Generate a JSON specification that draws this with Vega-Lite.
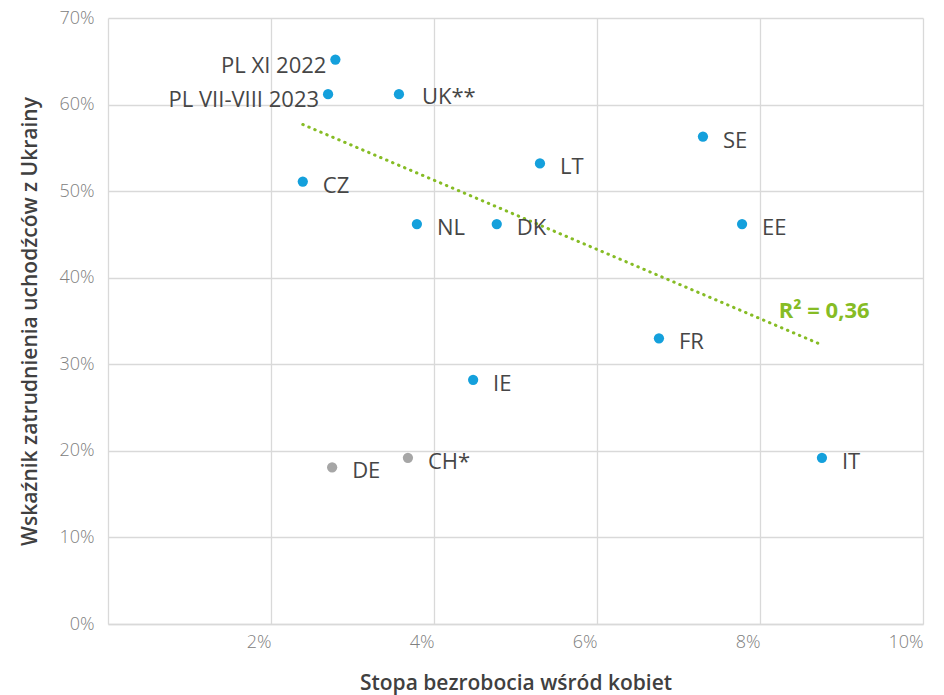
{
  "$schema": "https://vega.github.io/schema/vega-lite/v6.json",
  "autosize": "none",
  "width": 815,
  "height": 606,
  "padding": {"left": 108, "top": 18, "right": 21, "bottom": 71},
  "background": "white",
  "config": {
    "view": {"stroke": null},
    "font": "Open Sans",
    "axis": {
      "labelFont": "Open Sans",
      "labelFontWeight": 300,
      "labelFontSize": 18,
      "labelColor": "#808080",
      "titleFont": "Open Sans",
      "titleFontSize": 21,
      "titleFontWeight": 600,
      "titleColor": "#404040",
      "gridColor": "#d9d9d9",
      "gridWidth": 1.3,
      "domainColor": "#d9d9d9",
      "domainWidth": 1.3,
      "ticks": false
    }
  },
  "datasets": {
    "kraje": [
      {"kraj": "PL XI 2022", "bezrobocie": 0.0279, "zatrudnienie": 0.652, "grupa": "A"},
      {"kraj": "PL VII-VIII 2023", "bezrobocie": 0.0270, "zatrudnienie": 0.612, "grupa": "A"},
      {"kraj": "UK**", "bezrobocie": 0.0357, "zatrudnienie": 0.612, "grupa": "A"},
      {"kraj": "CZ", "bezrobocie": 0.0239, "zatrudnienie": 0.511, "grupa": "A"},
      {"kraj": "LT", "bezrobocie": 0.0530, "zatrudnienie": 0.532, "grupa": "A"},
      {"kraj": "SE", "bezrobocie": 0.0730, "zatrudnienie": 0.563, "grupa": "A"},
      {"kraj": "NL", "bezrobocie": 0.0379, "zatrudnienie": 0.462, "grupa": "A"},
      {"kraj": "DK", "bezrobocie": 0.0477, "zatrudnienie": 0.462, "grupa": "A"},
      {"kraj": "EE", "bezrobocie": 0.0778, "zatrudnienie": 0.462, "grupa": "A"},
      {"kraj": "FR", "bezrobocie": 0.0676, "zatrudnienie": 0.330, "grupa": "A"},
      {"kraj": "IE", "bezrobocie": 0.0448, "zatrudnienie": 0.282, "grupa": "A"},
      {"kraj": "DE", "bezrobocie": 0.0275, "zatrudnienie": 0.181, "grupa": "B"},
      {"kraj": "CH*", "bezrobocie": 0.0368, "zatrudnienie": 0.192, "grupa": "B"},
      {"kraj": "IT", "bezrobocie": 0.0876, "zatrudnienie": 0.192, "grupa": "A"}
    ],
    "trend": [
      {"bezrobocie": 0.0239, "zatrudnienie": 0.577},
      {"bezrobocie": 0.0877, "zatrudnienie": 0.322}
    ],
    "r2": [
      {"bezrobocie": 0.0823, "zatrudnienie": 0.361, "tekst": "R² = 0,36"}
    ]
  },
  "layer": [
    {
      "data": {"name": "trend"},
      "mark": {"type": "line", "color": "#86bc25", "strokeWidth": 3, "strokeDash": [0.5, 6], "strokeCap": "round"},
      "encoding": {
        "x": {"field": "bezrobocie", "type": "quantitative", "scale": {"domain": [0, 0.1]},
          "axis": {"values": [0.02, 0.04, 0.06, 0.08, 0.1], "format": ".0%", "labelAlign": "right", "labelPadding": 9, "title": "Stopa bezrobocia wśród kobiet", "titlePadding": 21, "grid": true}},
        "y": {"field": "zatrudnienie", "type": "quantitative", "scale": {"domain": [0, 0.7]},
          "axis": {"values": [0, 0.1, 0.2, 0.3, 0.4, 0.5, 0.6, 0.7], "format": ".0%", "labelPadding": 14, "title": "Wskaźnik zatrudnienia uchodźców z Ukrainy", "titlePadding": 18, "grid": true}}
      }
    },
    {
      "data": {"name": "kraje"},
      "mark": {"type": "circle", "size": 105, "opacity": 1},
      "encoding": {
        "x": {"field": "bezrobocie", "type": "quantitative"},
        "y": {"field": "zatrudnienie", "type": "quantitative"},
        "color": {"field": "grupa", "type": "nominal", "scale": {"domain": ["A", "B"], "range": ["#14a0dc", "#a6a6a6"]}, "legend": null}
      }
    },
    {
      "data": {"name": "kraje"},
      "transform": [{"filter": {"not": {"field": "kraj", "oneOf": ["PL XI 2022", "PL VII-VIII 2023", "UK**"]}}}],
      "mark": {"type": "text", "align": "left", "baseline": "middle", "dx": 20, "dy": 4, "fontSize": 22, "color": "#464646", "font": "Open Sans"},
      "encoding": {
        "x": {"field": "bezrobocie", "type": "quantitative"},
        "y": {"field": "zatrudnienie", "type": "quantitative"},
        "text": {"field": "kraj"}
      }
    },
    {
      "data": {"name": "kraje"},
      "transform": [{"filter": {"field": "kraj", "oneOf": ["UK**"]}}],
      "mark": {"type": "text", "align": "left", "baseline": "middle", "dx": 23, "dy": 3, "fontSize": 22, "color": "#464646", "font": "Open Sans"},
      "encoding": {
        "x": {"field": "bezrobocie", "type": "quantitative"},
        "y": {"field": "zatrudnienie", "type": "quantitative"},
        "text": {"field": "kraj"}
      }
    },
    {
      "data": {"name": "kraje"},
      "transform": [{"filter": {"field": "kraj", "oneOf": ["PL XI 2022", "PL VII-VIII 2023"]}}],
      "mark": {"type": "text", "align": "right", "baseline": "middle", "dx": -9, "dy": 6, "fontSize": 22, "color": "#464646", "font": "Open Sans"},
      "encoding": {
        "x": {"field": "bezrobocie", "type": "quantitative"},
        "y": {"field": "zatrudnienie", "type": "quantitative"},
        "text": {"field": "kraj"}
      }
    },
    {
      "data": {"name": "r2"},
      "mark": {"type": "text", "align": "left", "baseline": "middle", "fontSize": 22, "fontWeight": "bold", "color": "#86bc25", "font": "Open Sans"},
      "encoding": {
        "x": {"field": "bezrobocie", "type": "quantitative"},
        "y": {"field": "zatrudnienie", "type": "quantitative"},
        "text": {"field": "tekst"}
      }
    }
  ]
}
